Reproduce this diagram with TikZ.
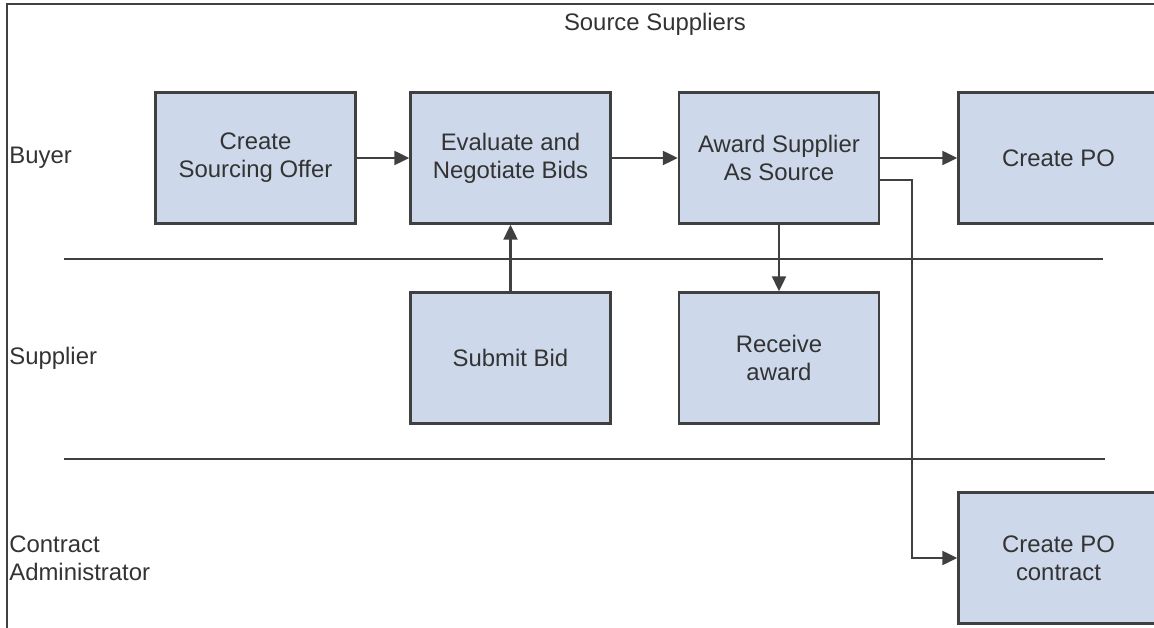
\documentclass[tikz,border=0pt]{standalone}
\usepackage{fontspec}
\setmainfont{Liberation Sans}
\usetikzlibrary{arrows.meta}
\definecolor{boxfill}{RGB}{205,217,235}
\definecolor{boxline}{RGB}{64,64,64}
\definecolor{textgray}{RGB}{51,51,51}
\begin{document}
\begin{tikzpicture}[
  x=0.02cm, y=-0.02cm,
  every node/.style={font=\fontsize{13.6}{15.8}\selectfont, text=textgray},
  task/.style={rectangle, draw=boxline, line width=1.5pt, fill=boxfill, minimum width=4.0cm, minimum height=2.62cm, align=center, inner sep=0pt},
  lane/.style={anchor=west, align=left, inner sep=0pt},
  arrow/.style={-{Triangle[length=8.5pt,width=8pt]}, line width=1.3pt, draw=boxline}
]
\useasboundingbox (0,0) rectangle (1154,628);
\clip (0,0) rectangle (1154,628);
\draw[boxline, line width=1pt] (7,628) -- (7,4) -- (1154,4);
\node (title) at (655,24) {Source Suppliers};

\node[lane] (buyer) at (9,158) {Buyer};
\node[lane] (supplier) at (9,358) {Supplier};
\node[lane] (admin) at (9,558) {Contract\\Administrator};

\draw[boxline, line width=1.1pt] (64,259) -- (1103,259);
\draw[boxline, line width=1.1pt] (64,459) -- (1105,459);

\node[task] (offer) at (255.5,158) {Create\\Sourcing Offer};
\node[task] (evaluate) at (510.5,158) {Evaluate and\\Negotiate Bids};
\node[task] (award) at (779,158) {Award Supplier\\As Source};
\node[task] (po) at (1058.5,158) {Create PO};
\node[task] (bid) at (510.5,358) {Submit Bid};
\node[task] (receive) at (779,358) {Receive\\award};
\node[task] (contract) at (1058.5,558) {Create PO\\contract};
\coordinate (bend) at (912,180);

\draw[arrow] (offer) -- (evaluate);
\draw[arrow] (evaluate) -- (award);
\draw[arrow] (award) -- (po);
\draw[arrow] (bid) -- (evaluate);
\draw[arrow] (award) -- (receive);
\draw[arrow] (award.east |- bend) -- (bend) |- (contract.west);
\end{tikzpicture}
\end{document}
